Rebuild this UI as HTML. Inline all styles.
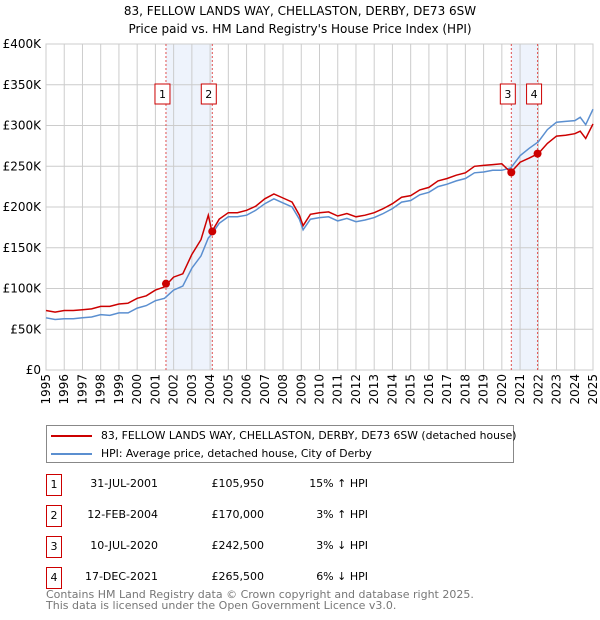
<!DOCTYPE html>
<html><head><meta charset="utf-8"><style>
body{margin:0;background:#fff;font-family:"DejaVu Sans","Liberation Sans",sans-serif;}
#wrap{position:relative;width:600px;height:620px;overflow:hidden;}
.t{position:absolute;font-size:11px;color:#000;white-space:nowrap;}
</style></head><body>
<div id="wrap">
<svg id="chart" width="600" height="420" style="position:absolute;left:0;top:0;font-family:'DejaVu Sans','Liberation Sans',sans-serif"></svg>
<div style="position:absolute;left:46px;top:425px;width:468px;height:38px;border:1px solid #888;box-sizing:border-box;">
 <div style="position:absolute;left:4px;top:3px;font-size:10.8px;white-space:nowrap;"><span style="display:inline-block;width:41px;height:2px;background:#cc0000;vertical-align:middle;margin-right:9px"></span>83, FELLOW LANDS WAY, CHELLASTON, DERBY, DE73 6SW (detached house)</div>
 <div style="position:absolute;left:4px;top:21px;font-size:10.8px;white-space:nowrap;"><span style="display:inline-block;width:41px;height:2px;background:#5b8fd0;vertical-align:middle;margin-right:9px"></span>HPI: Average price, detached house, City of Derby</div>
</div>
<div id="table"></div>
<div class="t" style="left:46px;top:589px;color:#777;font-size:11px;line-height:11px">Contains HM Land Registry data © Crown copyright and database right 2025.<br>This data is licensed under the Open Government Licence v3.0.</div>
</div>
<script>
const times=[1995,1995.5,1996,1996.5,1997,1997.5,1998,1998.5,1999,1999.5,2000,2000.5,2001,2001.5,2002,2002.5,2003,2003.5,2003.9,2004.1,2004.5,2005,2005.5,2006,2006.5,2007,2007.5,2008,2008.5,2008.9,2009.1,2009.5,2010,2010.5,2011,2011.5,2012,2012.5,2013,2013.5,2014,2014.5,2015,2015.5,2016,2016.5,2017,2017.5,2018,2018.5,2019,2019.5,2020,2020.5,2021,2021.5,2022,2022.5,2023,2023.5,2024,2024.3,2024.6,2025];
const hpi=[64,62,63,63,64,65,68,67,70,70,76,79,85,88,98,103,125,140,162,167,180,188,188,190,196,204,210,205,200,185,172,185,187,188,183,186,182,184,187,192,198,206,208,215,218,225,228,232,235,242,243,245,245,248,263,272,280,295,304,305,306,310,301,320];
const price=[73,71,73,73,74,75,78,78,81,82,88,91,98,102,114,118,142,160,190,170,185,193,193,196,201,210,216,211,206,190,177,191,193,194,189,192,188,190,193,198,204,212,214,221,224,232,235,239,242,250,251,252,253,242.5,255,260,265.5,278,287,288,290,293,284,302];
const saleTimes=[2001.58,2004.12,2020.52,2021.96];
const saleVals=[105.95,170,242.5,265.5];
const saleDates=["31-JUL-2001","12-FEB-2004","10-JUL-2020","17-DEC-2021"];
const salePrices=["£105,950","£170,000","£242,500","£265,500"];
const saleHpi=["15% ↑ HPI","3% ↑ HPI","3% ↓ HPI","6% ↓ HPI"];
const yTicks=[0,50,100,150,200,250,300,350,400];
const yTickLabels=["£0","£50K","£100K","£150K","£200K","£250K","£300K","£350K","£400K"];
const xTicks=[1995,1996,1997,1998,1999,2000,2001,2002,2003,2004,2005,2006,2007,2008,2009,2010,2011,2012,2013,2014,2015,2016,2017,2018,2019,2020,2021,2022,2023,2024,2025];

const L=46,R=593,T=44,B=370;
const X=t=>L+(t-1995)/30*(R-L);
const Y=v=>B-v/400*(B-T);
const ns="http://www.w3.org/2000/svg";
const svg=document.getElementById('chart');
function mk(tag,attrs,name){const e=document.createElementNS(ns,tag);for(const k in attrs)e.setAttribute(k,attrs[k]);


svg.appendChild(e);return e;}
let tt=mk('text',{x:300,y:15,'text-anchor':'middle','font-size':'12'},'chart-title');tt.textContent="83, FELLOW LANDS WAY, CHELLASTON, DERBY, DE73 6SW";
tt=mk('text',{x:300,y:33,'text-anchor':'middle','font-size':'12'},'chart-subtitle');tt.textContent="Price paid vs. HM Land Registry's House Price Index (HPI)";
mk('rect',{x:X(saleTimes[0]),y:T,width:X(saleTimes[1])-X(saleTimes[0]),height:B-T,fill:'#eef3fc'},'shade-1-2');
mk('rect',{x:X(saleTimes[2]),y:T,width:X(saleTimes[3])-X(saleTimes[2]),height:B-T,fill:'#eef3fc'},'shade-3-4');
yTicks.forEach((v,i)=>{mk('line',{x1:L,x2:R,y1:Y(v),y2:Y(v),stroke:'#ccc','stroke-width':1},'y-gridline');
const t=mk('text',{x:L-5,y:Y(v)+4,'text-anchor':'end','font-size':'12'},'y-tick-label');t.textContent=yTickLabels[i];});
xTicks.forEach(y=>{mk('line',{x1:X(y),x2:X(y),y1:T,y2:B,stroke:'#ccc','stroke-width':1},'x-gridline');
const t=mk('text',{x:0,y:0,'text-anchor':'end','font-size':'12',transform:`translate(${X(y)+4},374) rotate(-90)`},'x-tick-label');t.textContent=y;});
mk('rect',{x:L,y:T,width:R-L,height:B-T,fill:'none',stroke:'#ccc'},'plot-border');
saleTimes.forEach((t,i)=>{mk('line',{x1:X(t),x2:X(t),y1:T,y2:B,stroke:'#e05050','stroke-width':1,'stroke-dasharray':'2,2'},'sale-line');
mk('rect',{x:X(t)-11,y:84,width:15,height:20,fill:'#fff',stroke:'#cc0000'},'sale-label-box');
const tx=mk('text',{x:X(t)-3.5,y:98,'text-anchor':'middle','font-size':'11'},'sale-label');tx.textContent=i+1;});
const pts=a=>a.map((v,i)=>X(times[i]).toFixed(1)+','+Y(v).toFixed(1)).join(' ');
mk('polyline',{points:pts(hpi),fill:'none',stroke:'#5b8fd0','stroke-width':1.5},'hpi-line');
mk('polyline',{points:pts(price),fill:'none',stroke:'#cc0000','stroke-width':1.5},'price-line');
saleTimes.forEach((t,i)=>mk('circle',{cx:X(t),cy:Y(saleVals[i]),r:4,fill:'#cc0000'},'sale-point'));
const tb=document.getElementById('table');
saleDates.forEach((d,i)=>{const top=474+i*31;
tb.insertAdjacentHTML('beforeend',`<div>
<div style="position:absolute;left:46px;top:${top}px;width:14px;height:20px;border:1px solid #cc0000;font-size:11px;text-align:center;line-height:20px">${i+1}</div>
<div class="t" style="right:442px;top:${top+3}px">${d}</div>
<div class="t" style="right:336px;top:${top+3}px">${salePrices[i]}</div>
<div class="t" style="right:232px;top:${top+3}px">${saleHpi[i]}</div></div>`);});
</script>
</body></html>
